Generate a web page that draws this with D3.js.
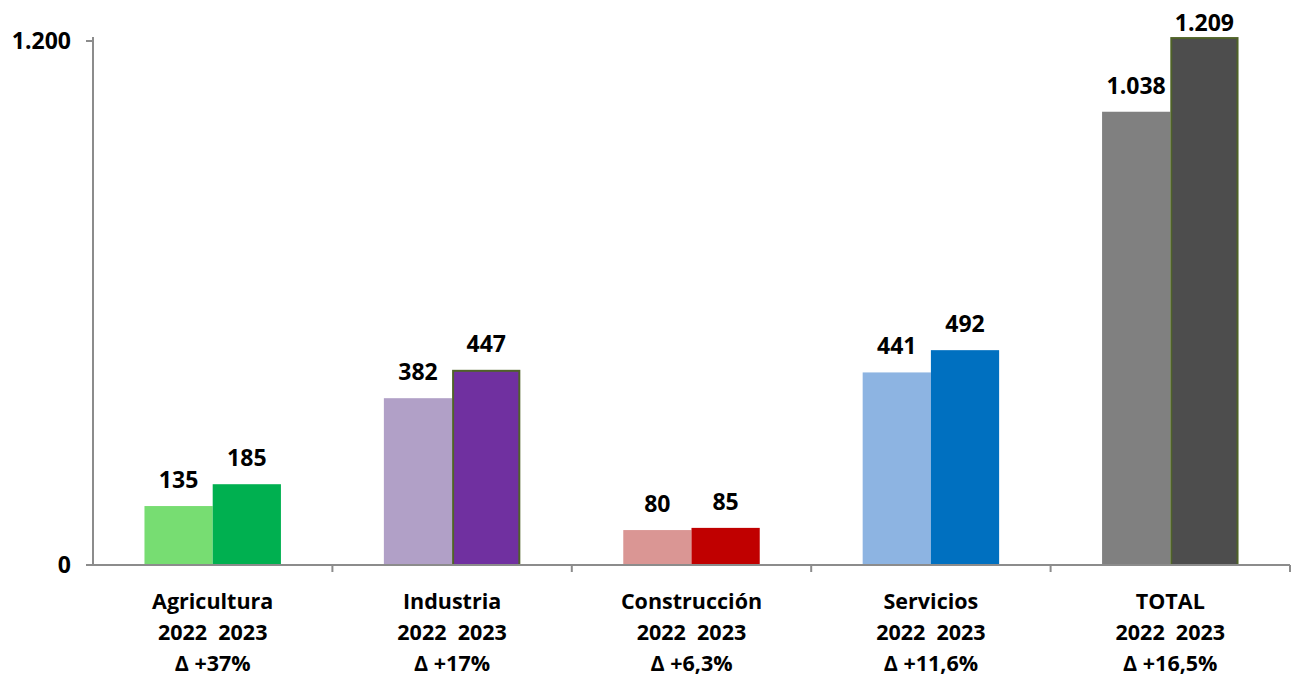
<!DOCTYPE html>
<html><head><meta charset="utf-8">
<script src="https://cdn.jsdelivr.net/npm/d3@7"></script>
<style>body{margin:0;background:#fff}svg text{font-family:"Open Sans","DejaVu Sans",sans-serif;font-weight:bold;fill:#000}</style>
</head><body><svg id="c" width="1296" height="676"></svg>
<script>
const categories = ["Agricultura","Industria","Construcción","Servicios","TOTAL"];
const years = ["2022","2023"];
const values2022 = [135,382,80,441,1038];
const values2023 = [185,447,85,492,1209];
const changes = ["Δ +37%","Δ +17%","Δ +6,3%","Δ +11,6%","Δ +16,5%"];
const yTicks = [0,1200];
const colors2022 = ["#77dd72","#b1a0c7","#da9694","#8db4e2","#808080"];
const colors2023 = ["#00b050","#7030a0","#c00000","#0070c0","#4d4d4d"];
const borders2023 = [null,"#4f6228",null,null,"#4f6228"];

const svg = d3.select("#c");
const x0 = 93, x1 = 1290, yTop = 41, yBot = 565;
const x = d3.scaleBand().domain(categories).range([x0,x1]).paddingInner(0.43).paddingOuter(0.215);
const xs = d3.scaleBand().domain(years).range([0,x.bandwidth()]);
const y = d3.scaleLinear().domain([0,1200]).range([yBot,yTop]);
const fmt = v => d3.format(",")(v).replace(/,/g,".");

// y axis
svg.append("line").attr("x1",x0).attr("x2",x0).attr("y1",37).attr("y2",yBot).attr("stroke","#8c8c8c").attr("stroke-width",2);
yTicks.forEach(t=>{
  svg.append("line").attr("x1",x0-7).attr("x2",x0).attr("y1",y(t)).attr("y2",y(t)).attr("stroke","#8c8c8c").attr("stroke-width",2);
  svg.append("text").attr("x",x0-22).attr("y",y(t)).attr("dy","0.36em").attr("text-anchor","end").attr("font-size",23).text(fmt(t));
});

// bars
categories.forEach((c,i)=>{
  const data = [{yr:"2022",v:values2022[i],col:colors2022[i],b:null},{yr:"2023",v:values2023[i],col:colors2023[i],b:borders2023[i]}];
  data.forEach(d=>{
    const bx = x(c)+xs(d.yr), bw = xs.bandwidth();
    const r = svg.append("rect").attr("x",bx).attr("y",y(d.v)).attr("width",bw).attr("height",yBot-y(d.v)).attr("fill",d.col);
    if(d.b){ r.attr("stroke",d.b).attr("stroke-width",2).attr("x",bx+1).attr("width",bw-2).attr("y",y(d.v)+1).attr("height",yBot-y(d.v)-1); }
    svg.append("text").attr("x",bx+bw/2).attr("y",Math.max(y(d.v)-18,31)).attr("text-anchor","middle").attr("font-size",23).text(fmt(d.v));
  });
});

// x axis
svg.append("line").attr("x1",x0).attr("x2",x1).attr("y1",yBot).attr("y2",yBot).attr("stroke","#8c8c8c").attr("stroke-width",2);
const step = x.step();
categories.forEach((c,i)=>{
  const tx = x0 + step*(i+1);
  svg.append("line").attr("x1",tx).attr("x2",tx).attr("y1",yBot).attr("y2",yBot+7).attr("stroke","#8c8c8c").attr("stroke-width",2);
  const cx = x(c)+x.bandwidth()/2;
  const lines = [c, years.join("  "), changes[i]];
  lines.forEach((l,j)=>{
    svg.append("text").attr("x",cx).attr("y",609+j*31).attr("text-anchor","middle").attr("font-size",21.5).attr("xml:space","preserve").style("white-space","pre").text(l);
  });
});
</script></body></html>
